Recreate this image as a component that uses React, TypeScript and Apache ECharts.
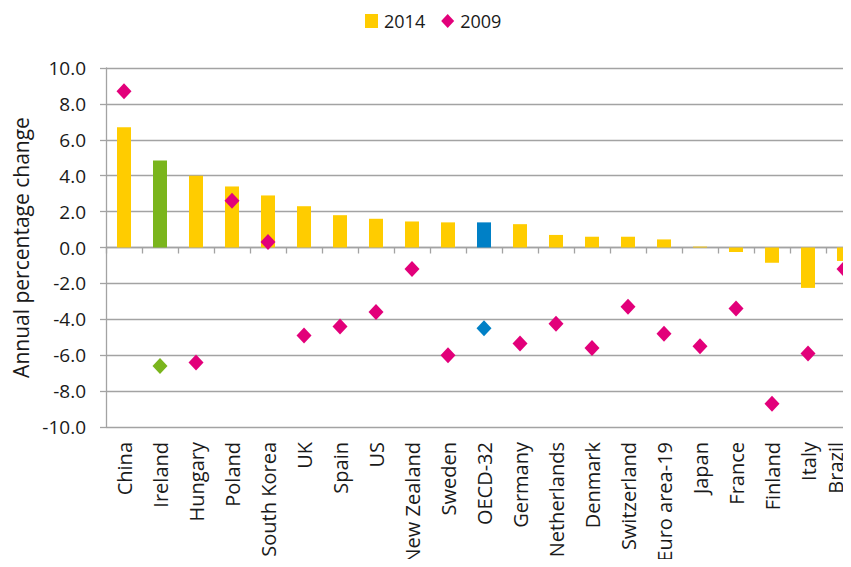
import React, { useEffect, useRef } from "react";
import * as echarts from "echarts";

const categories = [
  "China", "Ireland", "Hungary", "Poland", "South Korea", "UK", "Spain", "US",
  "New Zealand", "Sweden", "OECD-32", "Germany", "Netherlands", "Denmark",
  "Switzerland", "Euro area-19", "Japan", "France", "Finland", "Italy", "Brazil",
];
const values2014 = [
  6.7, 4.85, 4.0, 3.4, 2.9, 2.3, 1.8, 1.6, 1.45, 1.4, 1.4, 1.3, 0.7, 0.6, 0.6,
  0.45, 0.05, -0.25, -0.85, -2.25, -0.75,
];
const values2009 = [
  8.7, -6.6, -6.4, 2.6, 0.3, -4.9, -4.4, -3.6, -1.2, -6.0, -4.5, -5.35, -4.25,
  -5.6, -3.3, -4.8, -5.5, -3.4, -8.7, -5.9, -1.2,
];
const yTicks = { min: -10, max: 10, interval: 2 };

const YELLOW = "#FFCC00";
const MAGENTA = "#E2007A";
const GREEN = "#7AB51D";
const BLUE = "#0080C6";
const GRID = "#a3a3a3";
const FONT = "Open Sans";

const specialColor: Record<string, string> = { Ireland: GREEN, "OECD-32": BLUE };

export default function App() {
  const ref = useRef<HTMLDivElement>(null);
  useEffect(() => {
    if (!ref.current) return;
    const chart = echarts.init(ref.current, null, { renderer: "svg" });
    const lastName = categories[categories.length - 1];
    chart.setOption({
      animation: false,
      textStyle: { fontFamily: FONT },
      legend: {
        top: 7,
        left: 360,
        itemWidth: 13,
        itemHeight: 14,
        itemGap: 16,
        textStyle: { fontFamily: FONT, fontSize: 18, color: "#1a1a1a", padding: [0, 0, 0, 1] },
        data: [
          { name: "2014", icon: "rect", itemStyle: { color: YELLOW } },
          { name: "2009", icon: "diamond", itemStyle: { color: MAGENTA } },
        ],
      },
      grid: { left: 106, top: 68, width: 756, height: 359 },
      xAxis: [
        {
          type: "category",
          position: "bottom",
          data: categories,
          axisLine: { show: false, onZero: false },
          axisTick: { show: false },
          axisLabel: {
            interval: 0,
            rotate: 90,
            margin: 15,
            fontFamily: FONT,
            fontSize: 20,
            color: "#1a1a1a",
            formatter: (v: string) => (v === lastName ? `{edge|${v}}` : v),
            rich: {
              edge: {
                fontFamily: FONT,
                fontSize: 20,
                color: "#1a1a1a",
                padding: [0, 0, 18, 0],
              },
            },
          },
        },
        {
          type: "category",
          position: "bottom",
          data: categories,
          axisLine: { show: true, onZero: true, lineStyle: { color: GRID, width: 1.3 } },
          axisTick: { show: true, interval: 0, length: 6, lineStyle: { color: GRID, width: 1.3 } },
          axisLabel: { show: false },
        },
      ],
      yAxis: {
        type: "value",
        min: yTicks.min,
        max: yTicks.max,
        interval: yTicks.interval,
        name: "Annual percentage change",
        nameLocation: "middle",
        nameGap: 73,
        nameTextStyle: { fontFamily: FONT, fontSize: 21, color: "#1a1a1a" },
        axisLine: { show: true, lineStyle: { color: GRID, width: 1.3 } },
        axisTick: { show: true, length: 6, lineStyle: { color: GRID, width: 1.3 } },
        axisLabel: {
          margin: 20,
          fontFamily: FONT,
          fontSize: 19,
          color: "#1a1a1a",
          formatter: (v: number) => v.toFixed(1),
        },
        splitLine: { show: true, lineStyle: { color: GRID, width: 1.3 } },
      },
      series: [
        {
          name: "2014",
          type: "bar",
          xAxisIndex: 0,
          barWidth: 14,
          itemStyle: { color: YELLOW },
          data: values2014.map((v, i) => ({
            value: v,
            itemStyle: { color: specialColor[categories[i]] || YELLOW },
          })),
        },
        {
          name: "2009",
          type: "scatter",
          xAxisIndex: 0,
          symbol: "diamond",
          symbolSize: [15, 16],
          z: 5,
          itemStyle: { color: MAGENTA, opacity: 1 },
          data: values2009.map((v, i) => ({
            value: v,
            itemStyle: { color: specialColor[categories[i]] || MAGENTA },
          })),
        },
      ],
    });
    return () => chart.dispose();
  }, []);
  return (
    <div style={{ width: 851, height: 567, margin: -8, overflow: "hidden" }}>
      <div ref={ref} style={{ width: 880, height: 567 }} />
    </div>
  );
}
